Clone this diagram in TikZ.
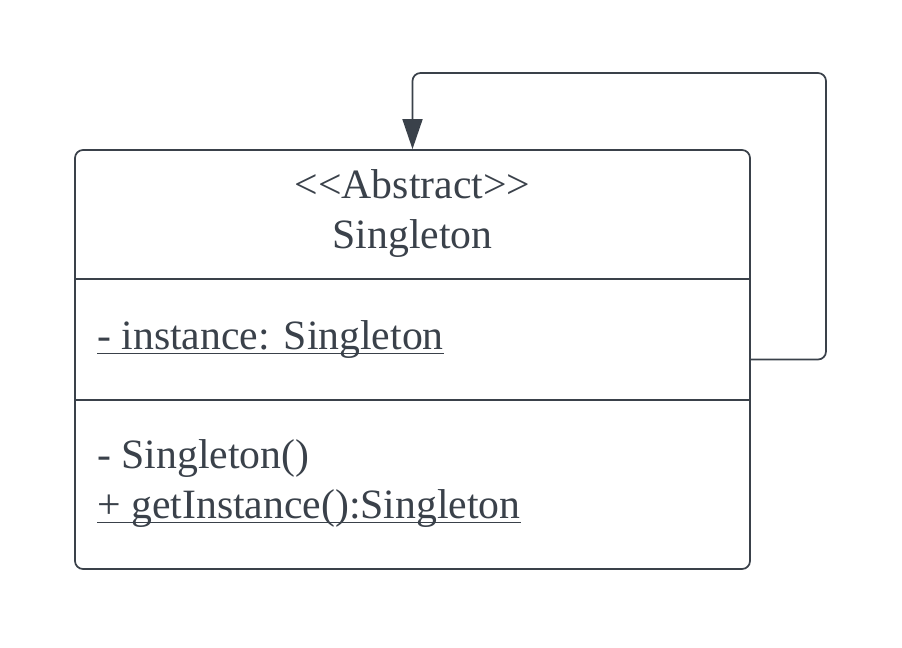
\documentclass[tikz,border=0pt]{standalone}
\usepackage{fontspec}
\setmainfont{Liberation Serif}
\usetikzlibrary{arrows.meta,positioning}
\definecolor{umlgray}{RGB}{58,65,74}
\tikzset{
  classbox/.style={draw=umlgray, line width=1.3pt, rounded corners=6pt,
    minimum width=506.25pt, minimum height=314.25pt, inner sep=0pt},
  umltext/.style={text=umlgray, font=\fontsize{31.3}{37}\selectfont, inner sep=0pt},
  divider/.style={draw=umlgray, line width=1pt},
  uline/.style={draw=umlgray, line width=1.1pt},
  selfloop/.style={draw=umlgray, line width=1.3pt, rounded corners=6pt,
    -{Triangle[length=22.5pt,width=15pt]}},
}
\begin{document}
\begin{tikzpicture}[x=0.75pt,y=-0.75pt]
    \useasboundingbox (0,0) rectangle (902,647);

    % class box
    \node[classbox] (singleton) at (412.5,359.5) {};
    \draw[divider] (singleton.west |- 0,279) -- (singleton.east |- 0,279);
    \draw[divider] (singleton.west |- 0,400) -- (singleton.east |- 0,400);

    % name compartment
    \node[umltext, anchor=base] (stereo) at (412.5,198) {<{}<Abstract>{}>};
    \node[umltext, anchor=base] (name) at (412.5,248) {Singleton};

    % attributes
    \node[umltext, anchor=base west] (attr) at (97,349) {- instance: Singleton};
    \draw[uline] ([yshift=-3.5pt]attr.base west) -- ([yshift=-3.5pt]attr.base east);

    % operations
    \node[umltext, anchor=base west] (ctor) at (97,468) {- Singleton()};
    \node[umltext, anchor=base west] (getinst) at (97,518) {+ getInstance():Singleton};
    \draw[uline] ([yshift=-3.5pt]getinst.base west) -- ([yshift=-3.5pt]getinst.base east);

    % self association
    \coordinate (loopright) at (826,73);
    \draw[selfloop] (singleton.east) -- (singleton.east -| loopright)
        -- (loopright) -- (loopright -| singleton.north) -- (singleton.north);
\end{tikzpicture}
\end{document}
